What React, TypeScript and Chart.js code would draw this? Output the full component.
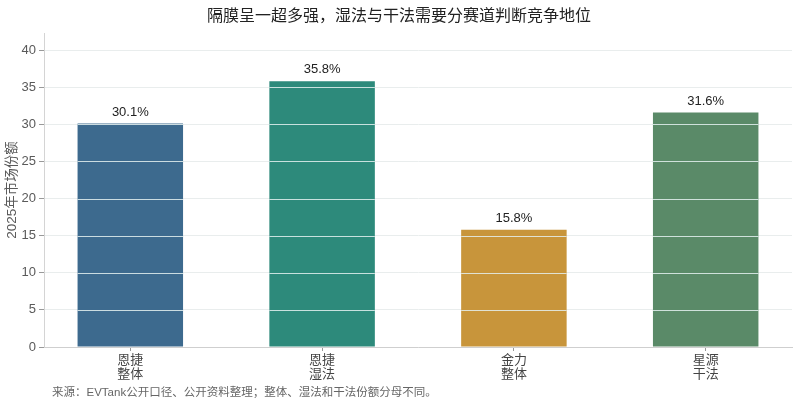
import React, { useEffect, useRef } from "react";
import { Chart, registerables } from "chart.js";

Chart.register(...registerables);

const categories: string[][] = [
  ["恩捷", "整体"],
  ["恩捷", "湿法"],
  ["金力", "整体"],
  ["星源", "干法"],
];
const shares: number[] = [30.1, 35.8, 15.8, 31.6];
const barColors: string[] = ["#3d6a8e", "#2d8a7b", "#c8953b", "#5a8a68"];
const yTicks: number[] = [0, 5, 10, 15, 20, 25, 30, 35, 40];
const titleText = "隔膜呈一超多强，湿法与干法需要分赛道判断竞争地位";
const footerText = "来源：EVTank公开口径、公开资料整理；整体、湿法和干法份额分母不同。";
const yTitle = "2025年市场份额";

const FONT = '"Liberation Sans", Arial, "Noto Sans CJK SC", sans-serif';

export default function App() {
  const ref = useRef<HTMLCanvasElement | null>(null);

  useEffect(() => {
    document.body.style.margin = "0";
    const canvas = ref.current;
    if (!canvas) return;

    const textPlugin = {
      id: "texts",
      afterDraw(chart: any) {
        const ctx = chart.ctx;
        ctx.save();
        ctx.fillStyle = "#222";
        ctx.font = `16px ${FONT}`;
        ctx.textAlign = "center";
        ctx.textBaseline = "middle";
        ctx.fillText(titleText, 399, 17);
        ctx.fillStyle = "#666";
        ctx.font = `11.5px ${FONT}`;
        ctx.textAlign = "left";
        ctx.fillText(footerText, 52, 393);
        ctx.restore();
      },
      afterDatasetsDraw(chart: any) {
        const ctx = chart.ctx;
        const meta = chart.getDatasetMeta(0);
        const yScale = chart.scales.y;
        const area = chart.chartArea;
        ctx.save();
        // grid lines drawn over the bars
        ctx.strokeStyle = "rgba(228,240,240,0.85)";
        ctx.lineWidth = 1.2;
        meta.data.forEach((bar: any) => {
          const half = bar.width / 2;
          yTicks.forEach((t) => {
            if (t <= 0) return;
            const py = Math.round(yScale.getPixelForValue(t)) + 0.5;
            if (py < bar.y || py > area.bottom) return;
            ctx.beginPath();
            ctx.moveTo(bar.x - half, py);
            ctx.lineTo(bar.x + half, py);
            ctx.stroke();
          });
        });
        ctx.fillStyle = "#222";
        ctx.font = `13px ${FONT}`;
        ctx.textAlign = "center";
        ctx.textBaseline = "bottom";
        meta.data.forEach((bar: any, i: number) => {
          ctx.fillText(`${shares[i].toFixed(1)}%`, bar.x, bar.y - 5);
        });
        ctx.restore();
      },
    };

    const chart = new Chart(canvas, {
      type: "bar",
      data: {
        datasets: [
          {
            data: shares.map((v, i) => ({ x: i, y: v })),
            backgroundColor: barColors,
            borderWidth: 0,
            categoryPercentage: 0.55,
            barPercentage: 1,
          },
        ],
      },
      options: {
        animation: false,
        responsive: false,
        maintainAspectRatio: false,
        layout: { padding: { left: 0, right: 8, top: 33, bottom: 15 } },
        plugins: {
          legend: { display: false },
          tooltip: { enabled: false },
          title: { display: false },
        },
        scales: {
          x: {
            type: "linear",
            min: -0.45,
            max: 3.45,
            offset: false,
            afterBuildTicks(scale: any) {
              scale.ticks = [0, 1, 2, 3].map((v) => ({ value: v }));
            },
            afterFit(scale: any) {
              scale.height = 45;
            },
            grid: {
              offset: false,
              drawOnChartArea: false,
              drawTicks: true,
              tickLength: 4,
              tickColor: "#999",
            },
            border: { color: "#cfcfcf", width: 1 },
            ticks: {
              autoSkip: false,
              maxRotation: 0,
              minRotation: 0,
              padding: 2,
              color: "#444",
              font: { family: FONT, size: 13, lineHeight: 1.1 },
              callback: (v: any) => categories[Math.round(Number(v))],
            },
          },
          y: {
            type: "linear",
            min: 0,
            max: 42.3,
            afterBuildTicks(scale: any) {
              scale.ticks = yTicks.map((v) => ({ value: v }));
            },
            afterFit(scale: any) {
              scale.width = 44;
            },
            grid: {
              color: "#e9eded",
              lineWidth: 1,
              tickLength: 5,
              tickColor: "#999",
            },
            border: { color: "#d4d4d4", width: 1 },
            ticks: {
              color: "#5a5a5a",
              padding: 3,
              font: { family: FONT, size: 13 },
            },
            title: {
              display: true,
              text: yTitle,
              color: "#5a5a5a",
              padding: { top: 4, bottom: 0 },
              font: { family: FONT, size: 13.5 },
            },
          },
        },
      },
      plugins: [textPlugin],
    } as any);

    return () => chart.destroy();
  }, []);

  return (
    <div style={{ width: 800, height: 407, background: "#fff" }}>
      <canvas ref={ref} width={800} height={407} style={{ display: "block", width: 800, height: 407 }} />
    </div>
  );
}
